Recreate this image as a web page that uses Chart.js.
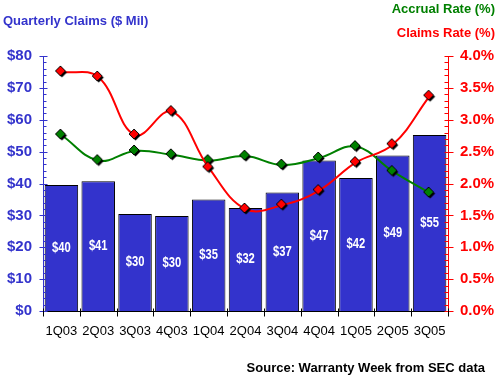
<!DOCTYPE html>
<html><head><meta charset="utf-8">
<script src="https://cdn.jsdelivr.net/npm/chart.js@4/dist/chart.umd.min.js"></script>
<style>html,body{margin:0;padding:0;background:#fff}#wrap{width:501px;height:380px;position:relative}</style>
</head><body><div id="wrap"><canvas id="c" width="501" height="380"></canvas></div>
<script>
const categories = ["1Q03","2Q03","3Q03","4Q03","1Q04","2Q04","3Q04","4Q04","1Q05","2Q05","3Q05"];
const claimsMil = [39.5, 40.7, 30.4, 29.8, 35.0, 32.3, 37.2, 47.2, 41.7, 48.8, 55.2];
const barLabels = ["$40","$41","$30","$30","$35","$32","$37","$47","$42","$49","$55"];
const accrualRate = [2.76, 2.36, 2.51, 2.45, 2.36, 2.43, 2.29, 2.40, 2.58, 2.19, 1.85];
const claimsRate = [3.75, 3.67, 2.76, 3.13, 2.25, 1.60, 1.66, 1.89, 2.33, 2.61, 3.37];
const leftTickValues = [0,10,20,30,40,50,60,70,80];
const rightTickValues = [0,0.5,1,1.5,2,2.5,3,3.5,4];

const BLUE = '#3333CC', RED = '#FF0000', GREEN = '#008000';

function diamond(fill) {
  const c = document.createElement('canvas');
  c.width = 16; c.height = 16;
  const g = c.getContext('2d');
  const r = 5, cx = 7, cy = 7;
  const path = (x, y) => { g.beginPath(); g.moveTo(x, y - r); g.lineTo(x + r, y); g.lineTo(x, y + r); g.lineTo(x - r, y); g.closePath(); };
  path(cx + 1.5, cy + 1.5); g.fillStyle = '#000'; g.fill();
  path(cx, cy); g.fillStyle = fill; g.fill(); g.lineWidth = 1; g.strokeStyle = '#000'; g.stroke();
  return c;
}

const deco = {
  id: 'deco',
  afterDraw(chart) {
    const ctx = chart.ctx;
    const y = chart.scales.y, y1 = chart.scales.y1, x = chart.scales.x;
    const ax = Math.round(y.right) + 0.5, bx = Math.round(y1.left) + 0.5;
    ctx.save();
    ctx.lineWidth = 1;
    ctx.strokeStyle = BLUE;
    for (let v = 0; v <= 80; v += 2) {
      const py = Math.round(y.getPixelForValue(v)) + 0.5;
      ctx.beginPath();
      if (v % 10 === 0) { ctx.moveTo(ax - 4, py); ctx.lineTo(ax + 4, py); }
      else { ctx.moveTo(ax, py); ctx.lineTo(ax + 3, py); }
      ctx.stroke();
    }
    ctx.strokeStyle = RED;
    for (let i = 0; i <= 40; i++) {
      const py = Math.round(y1.getPixelForValue(i / 10)) + 0.5;
      ctx.beginPath();
      if (i % 5 === 0) { ctx.moveTo(bx - 4, py); ctx.lineTo(bx + 5, py); }
      else { ctx.moveTo(bx - 4, py); ctx.lineTo(bx, py); }
      ctx.stroke();
    }
    ctx.strokeStyle = '#000';
    const base = Math.round(x.top) + 0.5;
    const n = categories.length;
    const w = (x.right - x.left) / n;
    for (let i = 0; i <= n; i++) {
      const px = Math.round(x.left + i * w) + 0.5;
      ctx.beginPath(); ctx.moveTo(px, base - 3); ctx.lineTo(px, base + 5); ctx.stroke();
    }
    ctx.restore();
  }
};

const barText = {
  id: 'barText',
  afterDatasetDraw(chart, args) {
    if (args.index !== 2) return;
    const ctx = chart.ctx;
    const meta = chart.getDatasetMeta(2);
    ctx.save();
    ctx.fillStyle = '#fff';
    ctx.font = 'bold 14px "Liberation Sans", Arial, sans-serif';
    ctx.textAlign = 'center'; ctx.textBaseline = 'middle';
    meta.data.forEach((bar, i) => {
      ctx.save();
      ctx.translate(bar.x, (bar.y + bar.base) / 2);
      ctx.scale(0.8, 1);
      ctx.fillText(barLabels[i], 0, 0);
      ctx.restore();
    });
    ctx.restore();
  },
  afterDraw(chart) {
    const ctx = chart.ctx;
    ctx.save();
    ctx.textBaseline = 'middle';
    ctx.font = 'bold 13px "Liberation Sans", Arial, sans-serif';
    ctx.textAlign = 'left'; ctx.fillStyle = BLUE;
    ctx.fillText('Quarterly Claims ($ Mil)', 3, 21);
    ctx.textAlign = 'right'; ctx.fillStyle = GREEN;
    ctx.fillText('Accrual Rate (%)', 495, 9);
    ctx.fillStyle = RED;
    ctx.fillText('Claims Rate (%)', 495, 33);
    ctx.fillStyle = '#000';
    ctx.fillText('Source: Warranty Week from SEC data', 485, 368);
    ctx.restore();
  }
};

new Chart(document.getElementById('c'), {
  data: {
    labels: categories,
    datasets: [
      { type: 'line', label: 'Claims Rate (%)', data: claimsRate, yAxisID: 'y1', borderColor: RED, borderWidth: 2,
        tension: 0.4, pointStyle: diamond(RED), pointRadius: 6, order: 1 },
      { type: 'line', label: 'Accrual Rate (%)', data: accrualRate, yAxisID: 'y1', borderColor: GREEN, borderWidth: 2,
        tension: 0.4, pointStyle: diamond(GREEN), pointRadius: 6, order: 2 },
      { type: 'bar', label: 'Quarterly Claims ($ Mil)', data: claimsMil, yAxisID: 'y', backgroundColor: BLUE,
        borderColor: '#000', borderWidth: 1, barPercentage: 0.91, categoryPercentage: 1.0, order: 3 }
    ]
  },
  options: {
    responsive: false, animation: false, devicePixelRatio: 1,
    layout: { padding: { top: 56, left: 0, right: 0, bottom: 0 } },
    plugins: { legend: { display: false }, tooltip: { enabled: false } },
    scales: {
      x: {
        type: 'category', offset: true,
        grid: { display: false, drawTicks: false }, border: { display: true, color: '#000', width: 1 },
        ticks: { color: '#000', font: { family: '"Liberation Sans", Arial, sans-serif', size: 13 }, padding: 13, maxRotation: 0, autoSkip: false },
        afterFit(s) { s.height = 69; }
      },
      y: {
        position: 'left', min: 0, max: 80,
        afterBuildTicks(s) { s.ticks = leftTickValues.map(v => ({ value: v })); },
        grid: { display: false, drawTicks: false }, border: { display: true, color: BLUE, width: 1 },
        ticks: { color: BLUE, font: { family: '"Liberation Sans", Arial, sans-serif', size: 15, weight: 'bold' }, padding: 11,
          callback: v => '$' + v },
        afterFit(s) { s.width = 43; }
      },
      y1: {
        position: 'right', min: 0, max: 4,
        afterBuildTicks(s) { s.ticks = rightTickValues.map(v => ({ value: v })); },
        grid: { display: false, drawTicks: false }, border: { display: true, color: RED, width: 1 },
        ticks: { color: RED, font: { family: '"Liberation Sans", Arial, sans-serif', size: 15, weight: 'bold' }, padding: 12,
          callback: v => Number(v).toFixed(1) + '%' },
        afterFit(s) { s.width = 53; }
      }
    }
  },
  plugins: [deco, barText]
});
</script>
</body></html>
